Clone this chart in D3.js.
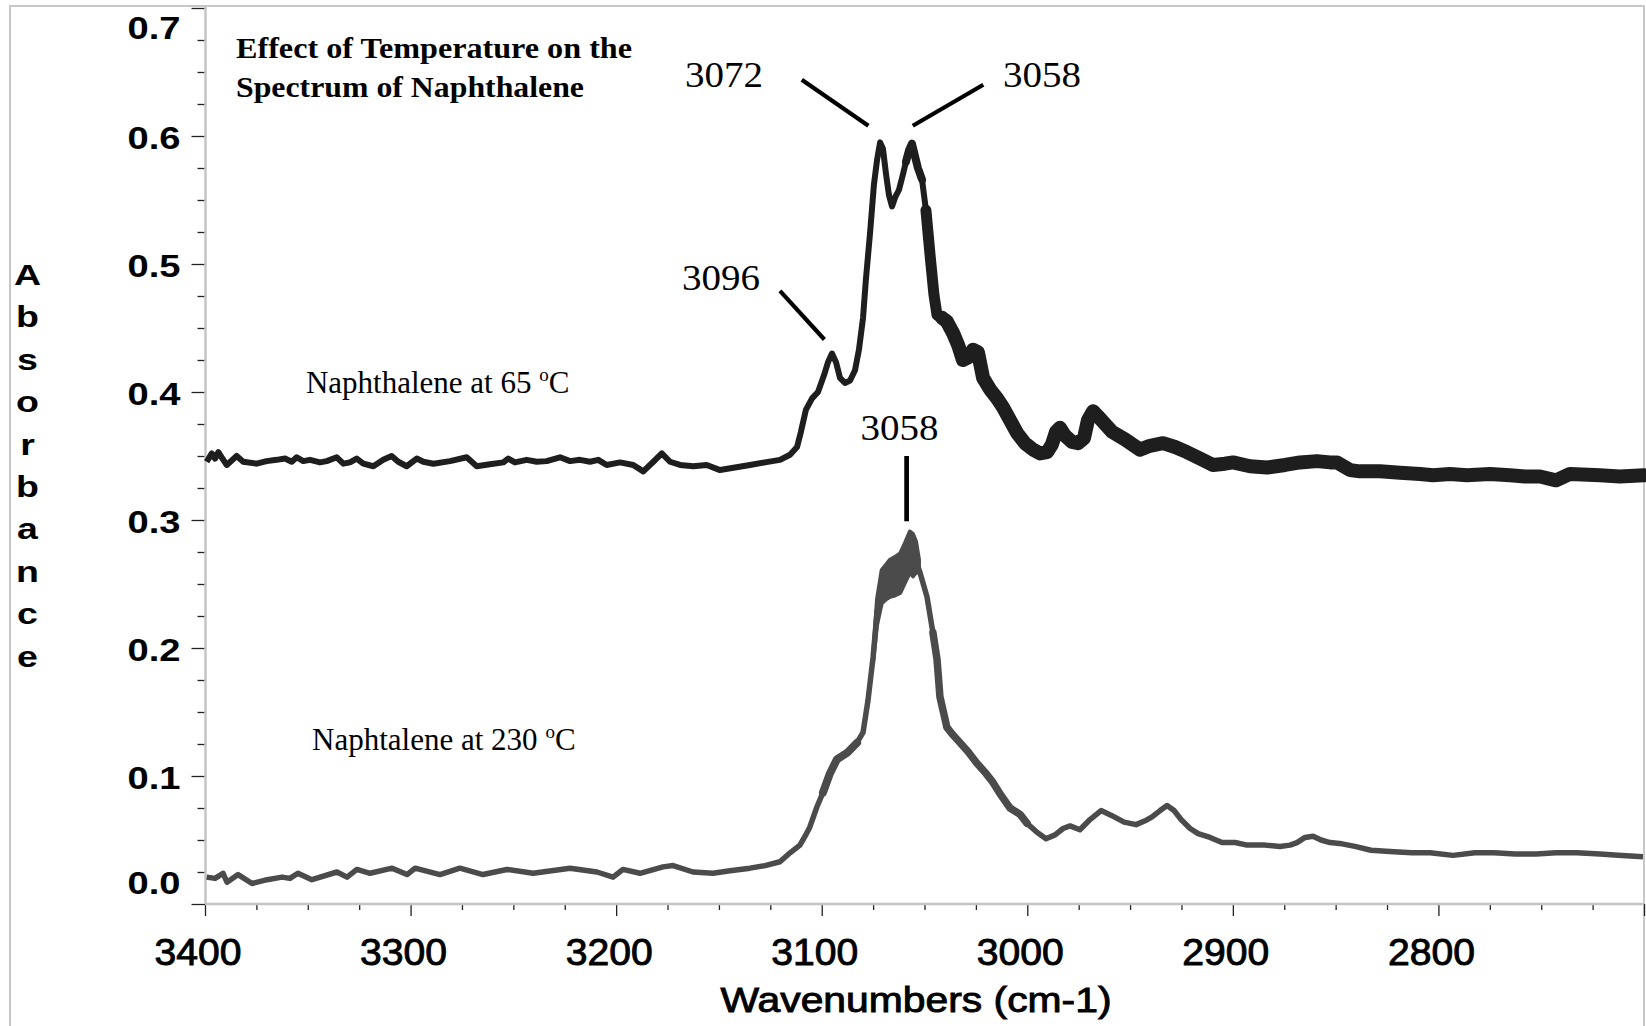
<!DOCTYPE html>
<html>
<head>
<meta charset="utf-8">
<script src="https://cdn.jsdelivr.net/npm/d3@7"></script>
<style>
  body { margin: 0; background: #fff; }
</style>
</head>
<body>
<svg id="chart" width="1646" height="1026"></svg>
<script>
// naphthalene at 65 C (upper trace)
const wn65 = [3399.2, 3396.7, 3395.1, 3393.5, 3391.9, 3389.4, 3384.6, 3381.4, 3374.9, 3370.0,
    3365.1, 3361.1, 3357.8, 3355.4, 3352.2, 3348.9, 3344.1, 3340.8, 3335.9, 3332.7,
    3329.5, 3326.2, 3323.0, 3318.1, 3313.3, 3309.2, 3306.0, 3301.9, 3297.0, 3293.8,
    3288.9, 3280.8, 3272.7, 3267.8, 3261.4, 3254.9, 3252.5, 3249.2, 3243.5, 3238.6,
    3233.8, 3227.3, 3222.4, 3217.6, 3212.7, 3208.7, 3204.6, 3198.1, 3191.7, 3186.8,
    3181.9, 3177.8, 3173.8, 3168.9, 3162.5, 3155.9, 3149.5, 3142.2, 3134.9, 3127.6,
    3120.3, 3115.4, 3112.0, 3110.1, 3107.7, 3104.7, 3101.8, 3098.9, 3097.0, 3095.0,
    3093.0, 3091.1, 3088.7, 3086.2, 3083.8, 3081.9, 3079.9, 3078.5, 3076.5, 3074.6,
    3073.1, 3071.6, 3070.2, 3068.7, 3067.3, 3065.8, 3064.3, 3062.4, 3060.5, 3059.0,
    3057.5, 3056.1, 3054.6, 3053.2, 3051.2, 3049.3, 3047.3, 3045.4, 3043.9, 3041.5,
    3039.1, 3036.1, 3033.7, 3031.3, 3028.8, 3026.4, 3024.0, 3021.5, 3018.1, 3014.7,
    3011.8, 3008.4, 3005.0, 3001.1, 2997.2, 2993.8, 2990.4, 2988.0, 2986.0, 2984.1,
    2981.7, 2978.2, 2975.3, 2972.4, 2970.5, 2968.0, 2965.6, 2962.2, 2958.8, 2952.5,
    2945.2, 2940.3, 2934.0, 2928.1, 2922.3, 2916.0, 2909.7, 2903.8, 2899.9, 2891.7,
    2883.4, 2874.6, 2867.3, 2859.1, 2852.7, 2849.3, 2843.0, 2838.2, 2828.4, 2818.7,
    2809.0, 2802.6, 2794.4, 2786.1, 2774.9, 2765.2, 2757.9, 2750.6, 2742.8, 2736.0,
    2721.4, 2711.7, 2700.0];
const abs65 = [.3455, .352, .348, .353, .349, .343, .350, .3455, .344, .346,
    .347, .348, .3455, .349, .346, .347, .345, .346, .349, .344,
    .345, .348, .344, .342, .347, .350, .3455, .342, .348, .3455,
    .344, .346, .349, .342, .3435, .345, .348, .345, .347, .3455,
    .346, .349, .346, .347, .3455, .347, .343, .345, .343, .338,
    .3455, .352, .3455, .343, .342, .343, .339, .341, .343, .345,
    .347, .351, .357, .369, .386, .395, .400, .413, .423, .430,
    .423, .411, .407, .409, .417, .433, .458, .488, .524, .562,
    .581, .595, .590, .570, .554, .545, .552, .558, .570, .580,
    .589, .594, .584, .575, .566, .542, .507, .476, .460, .458,
    .455, .446, .437, .425, .427, .433, .431, .411, .402, .395,
    .388, .378, .368, .360, .355, .352, .353, .359, .369, .372,
    .366, .361, .360, .364, .378, .385, .381, .375, .369, .363,
    .355, .358, .360, .357, .353, .348, .343, .344, .345, .342,
    .341, .343, .345, .346, .345, .345, .339, .338, .338, .337,
    .336, .335, .336, .335, .336, .335, .334, .334, .331, .336,
    .335, .334, .335];

// naphthalene at 230 C (lower trace)
const wn230 = [3399.2, 3395.1, 3391.2, 3389.3, 3383.9, 3377.1, 3369.8, 3362.5, 3358.7, 3354.8,
    3348.0, 3335.8, 3330.9, 3326.1, 3319.7, 3309.0, 3301.7, 3297.8, 3285.7, 3276.0,
    3264.8, 3253.1, 3240.4, 3222.4, 3209.3, 3201.5, 3196.7, 3188.4, 3177.2, 3172.3,
    3162.6, 3152.9, 3144.6, 3134.9, 3127.6, 3120.3, 3115.4, 3110.6, 3108.1, 3105.8,
    3102.3, 3099.4, 3096.0, 3092.6, 3087.7, 3082.8, 3079.9, 3077.5, 3075.0, 3073.1,
    3070.7, 3066.8, 3061.8, 3059.5, 3057.1, 3054.6, 3052.2, 3048.8, 3045.9, 3043.9,
    3042.5, 3039.1, 3036.1, 3032.7, 3028.8, 3024.5, 3020.6, 3016.7, 3012.8, 3008.4,
    3003.5, 3000.1, 2995.3, 2990.9, 2986.5, 2982.6, 2979.2, 2974.4, 2969.5, 2964.1,
    2958.8, 2952.9, 2947.1, 2942.7, 2939.3, 2935.4, 2932.0, 2928.6, 2925.2, 2920.8,
    2916.9, 2911.1, 2905.3, 2898.9, 2893.1, 2884.4, 2877.1, 2872.2, 2868.8, 2864.9,
    2861.0, 2857.1, 2852.7, 2846.9, 2840.6, 2832.8, 2823.6, 2812.9, 2804.1, 2792.9,
    2782.2, 2772.9, 2762.7, 2752.5, 2742.8, 2732.6, 2721.4, 2712.6, 2700.5];
const abs230 = [.021, .020, .024, .017, .023, .016, .019, .021, .020, .024,
    .019, .025, .021, .027, .024, .028, .023, .028, .023, .028,
    .023, .027, .024, .028, .025, .021, .027, .024, .029, .030,
    .025, .024, .026, .028, .030, .033, .040, .046, .053, .060,
    .076, .087, .102, .113, .118, .126, .134, .159, .193, .228,
    .247, .254, .260, .268, .275, .270, .259, .240, .212, .191,
    .162, .138, .132, .126, .119, .110, .103, .095, .085, .075,
    .070, .063, .056, .051, .054, .059, .061, .058, .066, .073,
    .069, .064, .062, .065, .068, .073, .077, .073, .066, .059,
    .055, .052, .048, .048, .046, .046, .045, .046, .048, .052,
    .053, .050, .048, .047, .045, .042, .041, .040, .040, .038,
    .040, .040, .039, .039, .040, .040, .039, .038, .037];

// noisy band left of the 230 C peak (upper / lower edge)
const band230Wn = [3075.0, 3073.1, 3070.8, 3068.7, 3066.8, 3064.4, 3061.8, 3059.5, 3057.1, 3055.6, 3054.1, 3052.7];
const band230Top = [.193, .238, .261, .265, .269, .271, .274, .282, .291, .289, .283, .269];
const band230Bottom = [.189, .218, .235, .238, .240, .241, .243, .251, .259, .256, .259, .259];

// axes
const xMajorTicks = [3400, 3300, 3200, 3100, 3000, 2900, 2800, 2700];
const xTickLabels = ['3400', '3300', '3200', '3100', '3000', '2900', '2800', ''];
const yMajorTicks = [0, 0.1, 0.2, 0.3, 0.4, 0.5, 0.6, 0.7];
const yTickLabels = ['0.0', '0.1', '0.2', '0.3', '0.4', '0.5', '0.6', '0.7'];

// peak annotations
const peakLabels = ['3072', '3058', '3096', '3058'];
const peakLabelWn = [3147.5, 2992.8, 3149.0, 3062.2];
const peakLabelAbs = [0.638, 0.638, 0.480, 0.3625];
const markerFromWn = [3109.7, 3021.4, 3120.3, 3058.7];
const markerFromAbs = [0.644, 0.640, 0.479, 0.350];
const markerToWn = [3077.3, 3055.7, 3098.7, 3058.7];
const markerToAbs = [0.608, 0.608, 0.441, 0.299];

// trace names
const seriesNames = ['Naphthalene at 65 ', 'Naphtalene at 230 '];
const seriesNameWn = [3350.9, 3347.9];
const seriesNameAbs = [0.399, 0.120];

const titleLines = ['Effect of Temperature on the', 'Spectrum of Naphthalene'];

const sans = "'Liberation Sans', Arial, sans-serif";
const serif = "'Liberation Serif', 'Times New Roman', serif";

const svg = d3.select('#chart');
const width = 1646;
const height = 1026;

const x = d3.scaleLinear().domain([3400, 2700]).range([205, 1644]);
const y = d3.scaleLinear().domain([0, 0.7]).range([904, 8]);

// outer frame
svg.append('path')
    .attr('d', `M10,${height} V6 H1644 V${height}`)
    .attr('fill', 'none')
    .attr('stroke', '#c8c8c8')
    .attr('stroke-width', 2);

// minor ticks
const xMinor = d3.range(3400, 2699, -25).filter(v => v % 100 !== 0);
const yMinor = d3.range(1, 28).filter(i => i % 4 !== 0).map(i => i * 0.025);

const xMinorAxis = d3.axisBottom(x).tickValues(xMinor).tickSize(6).tickSizeOuter(0).tickFormat('');
const yMinorAxis = d3.axisLeft(y).tickValues(yMinor).tickSize(8).tickSizeOuter(0).tickFormat('');

svg.append('g').attr('transform', 'translate(0,904)').call(xMinorAxis);
svg.append('g').attr('transform', 'translate(205.5,0)').call(yMinorAxis);

const xAxis = d3.axisBottom(x)
    .tickValues(xMajorTicks)
    .tickSize(12)
    .tickSizeOuter(0)
    .tickFormat((d, i) => xTickLabels[i]);

const yAxis = d3.axisLeft(y)
    .tickValues(yMajorTicks)
    .tickSize(14)
    .tickSizeOuter(0)
    .tickPadding(11)
    .tickFormat((d, i) => yTickLabels[i]);

const gx = svg.append('g').attr('transform', 'translate(0,904)').call(xAxis);
const gy = svg.append('g').attr('transform', 'translate(205.5,0)').call(yAxis);

svg.selectAll('.domain').remove();
svg.selectAll('.tick line').attr('stroke', '#222').attr('stroke-width', 1.3);

// grey axis lines of the plot box
svg.append('line')
    .attr('x1', 205.5).attr('x2', 205.5)
    .attr('y1', 6).attr('y2', y(0))
    .attr('stroke', '#c4c4c4').attr('stroke-width', 2.5);
svg.append('line')
    .attr('x1', 205).attr('x2', 1644)
    .attr('y1', y(0)).attr('y2', y(0))
    .attr('stroke', '#c4c4c4').attr('stroke-width', 2.5);

gx.selectAll('.tick text')
    .attr('font-family', sans)
    .attr('font-size', 36)
    .attr('fill', '#000')
    .attr('stroke', '#000')
    .attr('stroke-width', 0.9)
    .attr('y', 61)
    .attr('dy', 0)
    .attr('dx', -7.5)
    .attr('textLength', d => (d === 2700 ? null : 87))
    .attr('lengthAdjust', 'spacingAndGlyphs');

gy.selectAll('.tick text')
    .attr('font-family', sans)
    .attr('font-weight', 'bold')
    .attr('font-size', 31)
    .attr('fill', '#000')
    .attr('dy', d => (d === 0.7 ? 30 : d === 0 ? -10.6 : 12))
    .attr('textLength', 53)
    .attr('lengthAdjust', 'spacingAndGlyphs');

// axis titles
svg.append('text')
    .attr('x', 916)
    .attr('y', 1012)
    .attr('text-anchor', 'middle')
    .attr('font-family', sans)
    .attr('font-size', 35)
    .attr('stroke', '#000')
    .attr('stroke-width', 0.9)
    .attr('textLength', 391)
    .attr('lengthAdjust', 'spacingAndGlyphs')
    .text('Wavenumbers (cm-1)');

const yTitle = 'Absorbance'.split('');
svg.append('g').selectAll('text')
    .data(yTitle)
    .enter()
    .append('text')
    .attr('transform', (d, i) => `translate(27.5,${285 + i * 42.4}) scale(1.25,1)`)
    .attr('text-anchor', 'middle')
    .attr('font-family', sans)
    .attr('font-weight', 'bold')
    .attr('font-size', 30)
    .text(d => d);

// traces
const zip = (a, b) => a.map((v, i) => [v, b[i]]);
const line = d3.line().x(d => x(d[0])).y(d => y(d[1]));

const pts65 = zip(wn65, abs65);
const pts230 = zip(wn230, abs230);

// draws a trace, with wider strokes where the recorded noise makes it look like a band
function drawTrace(pts, color, baseWidth, thick) {
    svg.append('path')
        .datum(pts)
        .attr('fill', 'none')
        .attr('stroke', color)
        .attr('stroke-width', baseWidth)
        .attr('stroke-linejoin', 'round')
        .attr('d', line);
    thick.forEach(s => {
        svg.append('path')
            .datum(pts.filter(p => p[0] <= s.from && p[0] >= s.to))
            .attr('fill', 'none')
            .attr('stroke', color)
            .attr('stroke-width', s.width)
            .attr('stroke-linejoin', 'round')
            .attr('stroke-linecap', 'round')
            .attr('d', line);
    });
}

drawTrace(pts230, '#4b4b4b', 5.5, [
    { from: 3100, to: 3080, width: 8 },
    { from: 3046, to: 3000, width: 7.5 }
]);

const bandPts = band230Wn.map((w, i) => ({ wn: w, top: band230Top[i], bottom: band230Bottom[i] }));
svg.append('path')
    .datum(bandPts)
    .attr('fill', '#4b4b4b')
    .attr('stroke', '#4b4b4b')
    .attr('stroke-width', 4)
    .attr('stroke-linejoin', 'round')
    .attr('d', d3.area().x(d => x(d.wn)).y0(d => y(d.bottom)).y1(d => y(d.top)));

drawTrace(pts65, '#1e1e1e', 6, [
    { from: 3060, to: 3050, width: 8 },
    { from: 3050, to: 3041, width: 11 },
    { from: 3042, to: 2700, width: 14 }
]);

// peak markers
svg.append('g').selectAll('line')
    .data(peakLabels)
    .enter()
    .append('line')
    .attr('x1', (d, i) => x(markerFromWn[i]))
    .attr('y1', (d, i) => y(markerFromAbs[i]))
    .attr('x2', (d, i) => x(markerToWn[i]))
    .attr('y2', (d, i) => y(markerToAbs[i]))
    .attr('stroke', '#000')
    .attr('stroke-width', (d, i) => (i === 3 ? 4.7 : 4.2));

svg.append('g').selectAll('text')
    .data(peakLabels)
    .enter()
    .append('text')
    .attr('x', (d, i) => x(peakLabelWn[i]))
    .attr('y', (d, i) => y(peakLabelAbs[i]))
    .attr('text-anchor', 'middle')
    .attr('font-family', serif)
    .attr('font-size', 36)
    .attr('textLength', 78)
    .attr('lengthAdjust', 'spacingAndGlyphs')
    .text(d => d);

// trace names
const names = svg.append('g').selectAll('text')
    .data(seriesNames)
    .enter()
    .append('text')
    .attr('x', (d, i) => x(seriesNameWn[i]))
    .attr('y', (d, i) => y(seriesNameAbs[i]))
    .attr('font-family', serif)
    .attr('font-size', 31);
names.append('tspan').text(d => d);
names.append('tspan').attr('font-size', 19).attr('dy', -12).text('o');
names.append('tspan').attr('dy', 12).text('C');

// title
svg.append('g').selectAll('text')
    .data(titleLines)
    .enter()
    .append('text')
    .attr('x', 236)
    .attr('y', (d, i) => 58 + i * 39)
    .attr('font-family', serif)
    .attr('font-weight', 'bold')
    .attr('font-size', 30)
    .attr('textLength', (d, i) => (i === 0 ? 396 : 348))
    .attr('lengthAdjust', 'spacingAndGlyphs')
    .text(d => d);
</script>
</body>
</html>
